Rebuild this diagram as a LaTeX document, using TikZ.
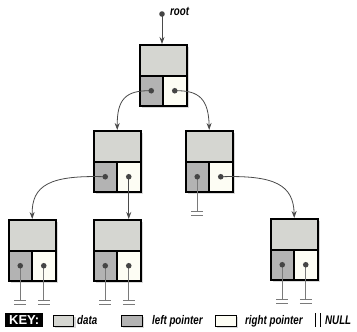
\documentclass[tikz,border=0pt]{standalone}
\usepackage{fontspec}
\setmainfont{Liberation Sans}
\newfontfamily\keyfont[FakeStretch=0.78]{Liberation Sans}
\usetikzlibrary{arrows.meta}
\definecolor{datac}{HTML}{D5D6D1}
\definecolor{leftc}{HTML}{B3B3B3}
\definecolor{rightc}{HTML}{FDFDF4}
\definecolor{shadowc}{HTML}{D9D9D9}
\definecolor{linec}{HTML}{4A4A4A}
\definecolor{dotc}{HTML}{454545}
\definecolor{nullc}{HTML}{7A7A7A}
\tikzset{
  cell/.style={draw=black,line width=1.5pt,inner sep=0pt,anchor=north west},
  link/.style={draw=linec,line width=0.8pt,-{Stealth[length=7pt,width=5pt]}},
  nullline/.style={draw=nullc,line width=1pt},
  nullbar/.style={draw=nullc,line width=1.3pt},
  lbl/.style={font=\keyfont\bfseries\itshape\fontsize{12.5}{14}\selectfont,inner sep=0pt,anchor=base west},
}
\newcommand\tnode[3]{%
  \fill[shadowc] (#2+3,#3+3) rectangle ++(47,61);
  \node[cell,fill=datac,minimum width=47pt,minimum height=31pt] (#1-d) at (#2,#3) {};
  \node[cell,fill=leftc,minimum width=23pt,minimum height=30pt] (#1-l) at (#2,#3+31) {};
  \node[cell,fill=rightc,minimum width=24pt,minimum height=30pt] (#1-r) at (#2+23,#3+31) {};
}
\newcommand\nullp[1]{%
  \draw[nullline] (#1.center) -- ++(0,35);
  \draw[nullbar] (#1.center) ++(-6,35) -- ++(12,0);
  \draw[nullbar] (#1.center) ++(-6,39) -- ++(12,0);
}
\newcommand\tdot[1]{\fill[dotc] (#1.center) circle (2.8pt);}
\begin{document}
\begin{tikzpicture}[x=1pt,y=-1pt]
\useasboundingbox (0,0) rectangle (357,332);
% nodes
\tnode{r}{139}{44}
\tnode{a}{93}{130}
\tnode{b}{185}{130}
\tnode{c}{8}{219}
\tnode{d}{93}{219}
\tnode{e}{270}{218}
% root pointer
\coordinate (rootdot) at (162,14);
\node[lbl] (rootlbl) at (170,16) {root};
\draw[link] (rootdot) -- (rootdot |- r-d.north);
\fill[dotc] (rootdot) circle (2.8pt);
% links
\draw[link] (r-l.center) .. controls (125,90) and (117,100) .. (a-d.north);
\draw[link] (r-r.center) .. controls (200,90) and (208.5,100) .. (b-d.north);
\draw[link] (a-l.center) .. controls (50,175) and (31.5,185) .. (c-d.north);
\draw[link] (a-r.center) -- (a-r.center |- d-d.north);
\draw[link] (b-r.center) .. controls (275,175) and (293.5,185) .. (e-d.north);
% nulls
\nullp{b-l}
\nullp{c-l}\nullp{c-r}
\nullp{d-l}\nullp{d-r}
\nullp{e-l}\nullp{e-r}
% dots
\tdot{r-l}\tdot{r-r}
\tdot{a-l}\tdot{a-r}
\tdot{b-l}\tdot{b-r}
\tdot{c-l}\tdot{c-r}
\tdot{d-l}\tdot{d-r}
\tdot{e-l}\tdot{e-r}
% key
\node[fill=black,text=white,inner sep=0pt,minimum width=38pt,minimum height=14pt,anchor=north west,font=\bfseries\fontsize{13}{14}\selectfont] (key) at (5,313) {KEY:};
\fill[shadowc] (55,317) rectangle ++(21,11);
\node[cell,line width=1.2pt,fill=datac,minimum width=20pt,minimum height=11pt] (kd) at (53,315) {};
\node[lbl] (kdt) at (77,324) {data};
\fill[shadowc] (123,317) rectangle ++(21,11);
\node[cell,line width=1.2pt,fill=leftc,minimum width=21pt,minimum height=11pt] (kl) at (121,315) {};
\node[lbl] (klt) at (152,324) {left pointer};
\fill[shadowc] (217,317) rectangle ++(21,11);
\node[cell,line width=1.2pt,fill=rightc,minimum width=21pt,minimum height=11pt] (kr) at (215,315) {};
\node[lbl] (krt) at (245,324) {right pointer};
\coordinate (n1) at (315,313);
\coordinate (n2) at (320,313);
\draw[line width=0.8pt] (n1) -- ++(0,14);
\draw[line width=0.8pt] (n2) -- ++(0,14);
\node[lbl] (knt) at (325,324) {NULL};
\end{tikzpicture}
\end{document}
